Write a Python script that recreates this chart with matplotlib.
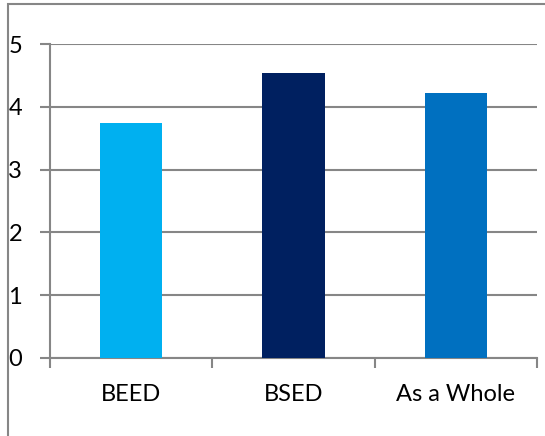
from matplotlib import pyplot as plt
from matplotlib.patches import Rectangle

categorias = ['BEED', 'BSED', 'As a Whole']
valores = [3.74, 4.54, 4.22]
colores = ['#00B0F0', '#002060', '#0070C0']

plt.rcParams['font.family'] = ['Lato', 'DejaVu Sans']

fig = plt.figure(figsize=(5.45, 4.36), dpi=100)
ax = fig.add_axes([50/545, 1 - 358/436, 487/545, 314/436])

x = list(range(len(categorias)))
ax.bar(x, valores, width=0.385, color=colores, zorder=3)

ax.set_xlim(-0.5, 2.5)
ax.set_ylim(0, 5)
ax.set_yticks(range(0, 6))
ax.yaxis.grid(True, color='#868686', linewidth=1.5, zorder=0)

ax.set_xticks(x)
ax.set_xticklabels(categorias, fontsize=17)
ax.set_xticks([-0.5, 0.5, 1.5, 2.5], minor=True)
ax.tick_params(axis='x', which='major', length=0, pad=19)
ax.tick_params(axis='x', which='minor', length=7, width=1.5, color='#868686', direction='out')
ax.tick_params(axis='y', length=7, width=1.5, color='#868686', labelsize=17, pad=13)

for s in ['top', 'right']:
    ax.spines[s].set_visible(False)
for s in ['left', 'bottom']:
    ax.spines[s].set_color('#868686')
    ax.spines[s].set_linewidth(1.5)

# marco del gráfico (cortado a la derecha y abajo)
fig.patches.append(Rectangle((8/545, -0.1), 1.2, 1.1 - 4/436, transform=fig.transFigure,
                             fill=False, edgecolor='#868686', linewidth=1.5))

fig.text(94/545, 1 + 10/436, 'p', style='italic', fontsize=16, va='center',
         family=['Liberation Serif'])

plt.savefig('out.png', dpi=100)
